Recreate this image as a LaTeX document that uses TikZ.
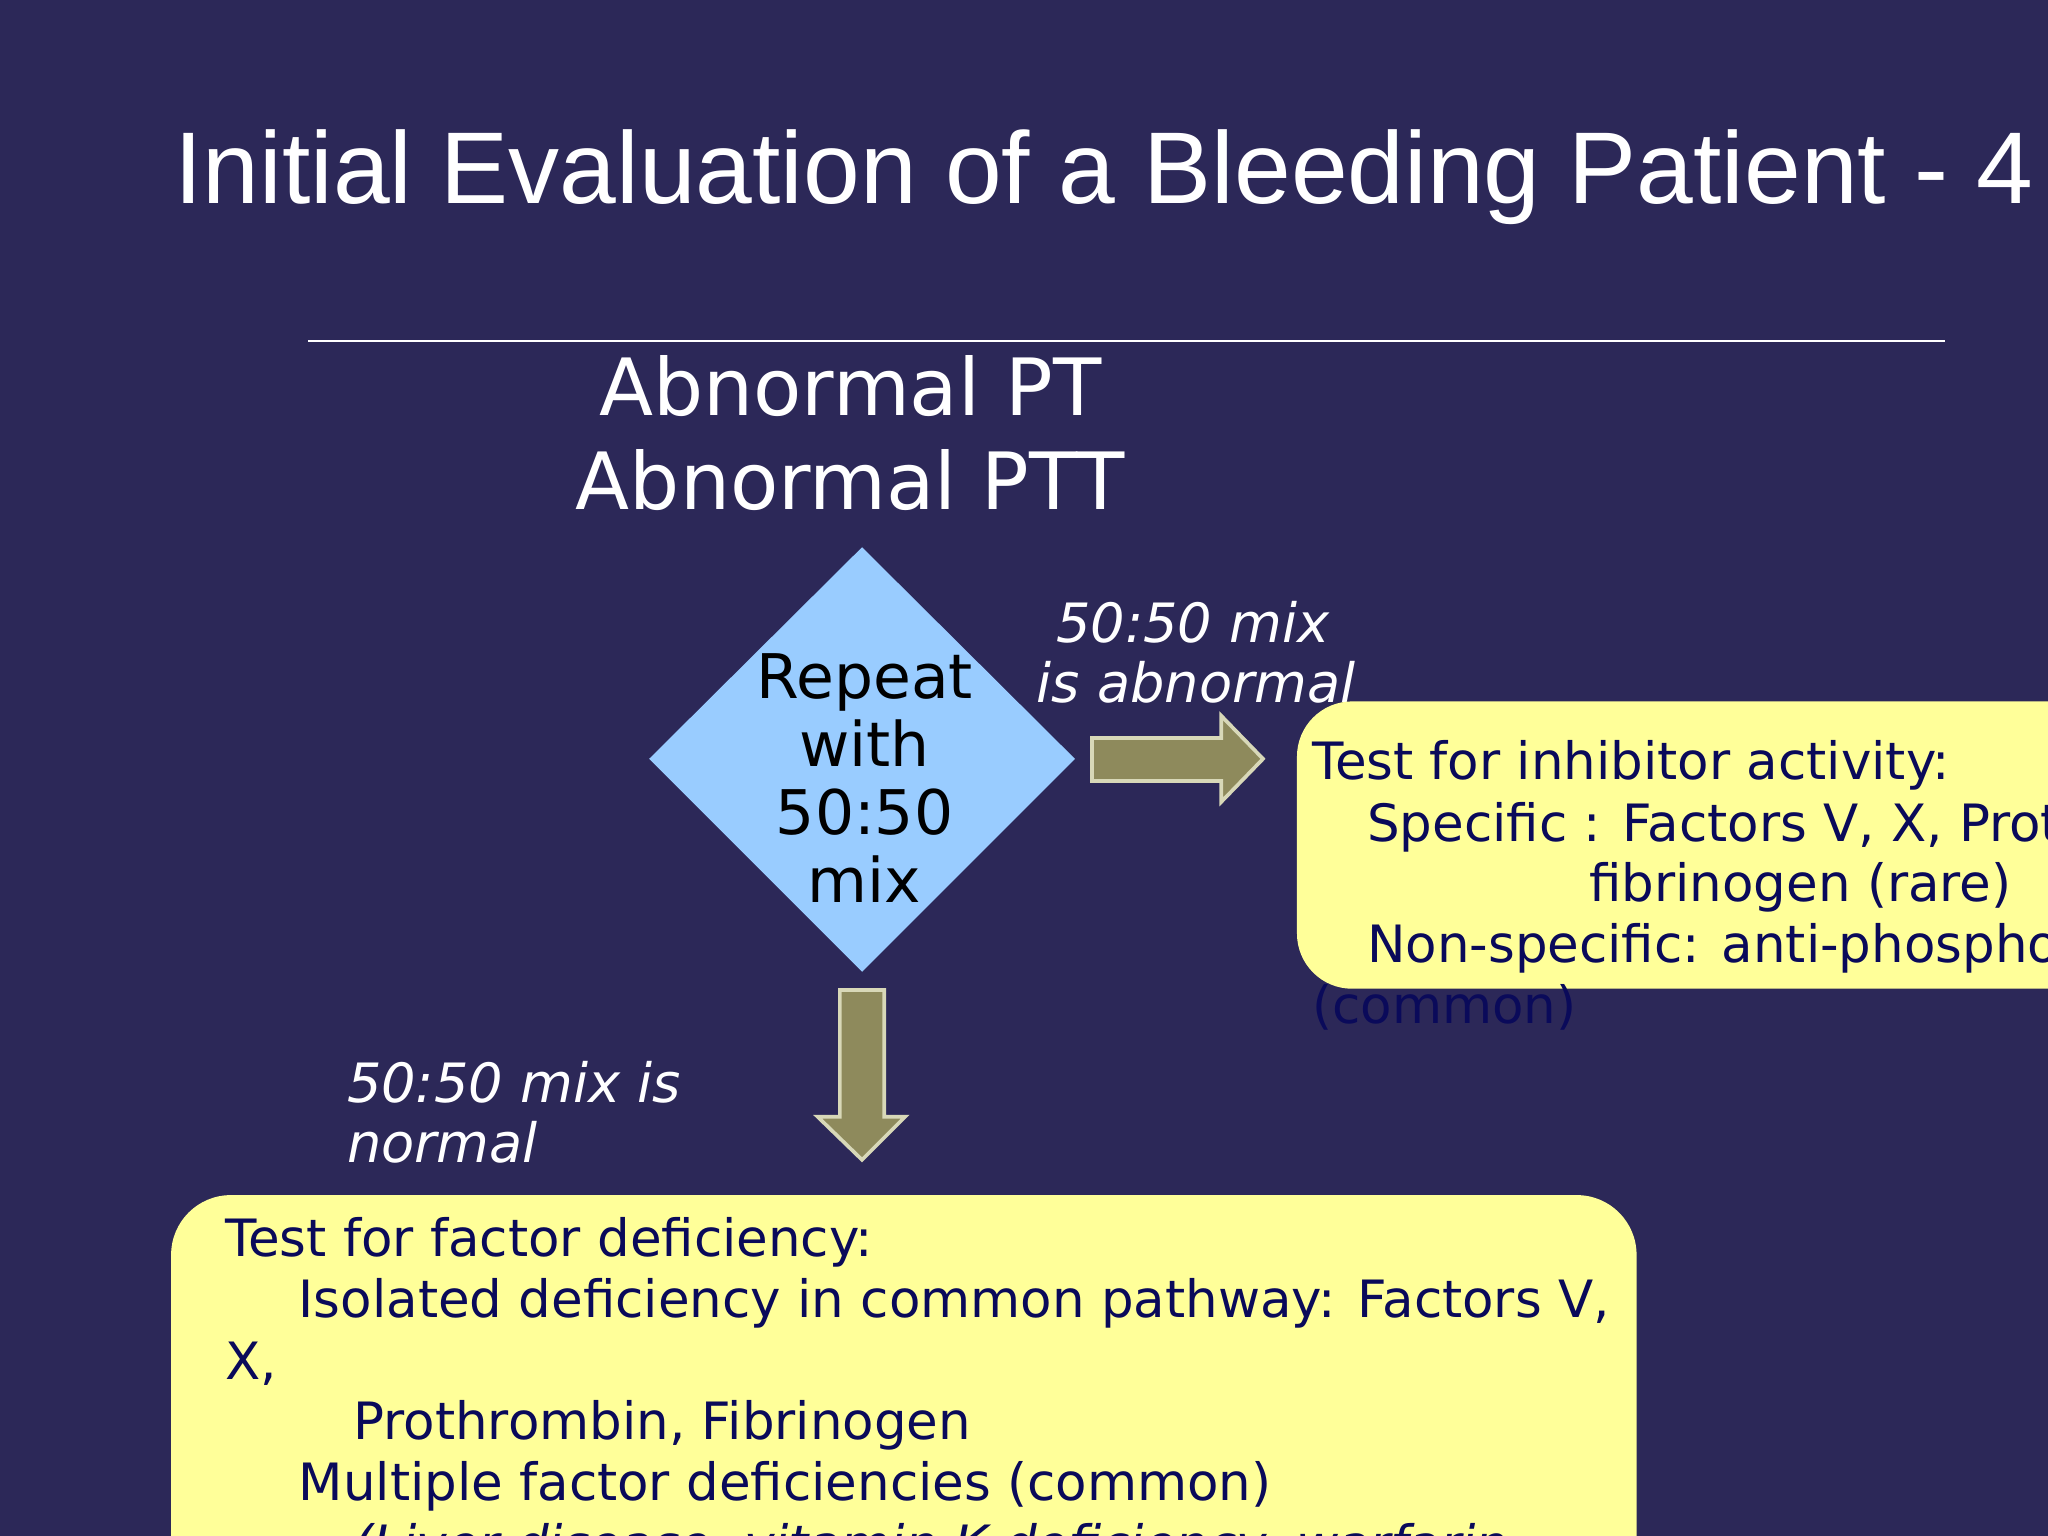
\documentclass[tikz,border=0pt]{standalone}
\usepackage{fontspec}
\setmainfont{DejaVu Sans}
\newfontfamily\titlefont{Liberation Sans}
\begin{document}
\begin{tikzpicture}[x=0.01cm,y=-0.01cm,
  boxtxt/.style={anchor=base west,inner sep=0,font=\fontsize{11.2}{14}\selectfont,text=navytxt},
  lbl/.style={anchor=base west,inner sep=0,font=\fontsize{11.8}{14}\selectfont\itshape,text=white},
  dtxt/.style={anchor=base,inner sep=0,font=\fontsize{13.4}{16}\selectfont,text=black},
  head/.style={anchor=base,inner sep=0,font=\fontsize{17.2}{20}\selectfont,text=white},
  blk/.style={fill=olive1,draw=olive2,line width=0.8pt,line join=miter}]
\definecolor{bg}{HTML}{2C2858}
\definecolor{navytxt}{HTML}{0A0A5A}
\definecolor{yel}{HTML}{FFFF99}
\definecolor{dia}{HTML}{99CCFF}
\definecolor{olive1}{HTML}{8E8A5C}
\definecolor{olive2}{HTML}{D8D8B8}
\fill[bg] (0,0) rectangle (1568,1176);
\useasboundingbox (0,0) rectangle (1568,1176);
\clip (0,0) rectangle (1568,1176);
\node[anchor=base west,inner sep=0,font=\titlefont\fontsize{22.2}{26}\selectfont,text=white] (title) at (133,156) {Initial Evaluation of a Bleeding Patient - 4};
\coordinate (l1) at (236,261); \coordinate (l2) at (1489,261);
\draw[white,line width=0.6pt] (l1) -- (l2);
\node[head] (h1) at (651,318) {Abnormal PT};
\node[head] (h2) at (651,390) {Abnormal PTT};
\fill[dia] (660,419) -- (823,581) -- (660,744) -- (497,581) -- cycle;
\node[dtxt] (d1) at (662,535) {Repeat};
\node[dtxt] (d2) at (662,587) {with};
\node[dtxt] (d3) at (662,639) {50:50};
\node[dtxt] (d4) at (662,691) {mix};
\draw[blk] (836,565) -- (935,565) -- (935,548) -- (967,581) -- (935,614) -- (935,598) -- (836,598) -- cycle;
\draw[blk] (643,758) -- (677,758) -- (677,855) -- (693,855) -- (660,888) -- (626,855) -- (643,855) -- cycle;
\node[lbl] (a1) at (808,492) {50:50 mix};
\node[lbl] (a2) at (793,538) {is abnormal};
\node[lbl] (b1) at (265,844) {50:50 mix is};
\node[lbl] (b2) at (265,890) {normal};
\fill[yel,rounded corners=12pt] (993,537) rectangle (1700,757);
\node[boxtxt] (r1) at (1004,597) {Test for inhibitor activity:};
\node[boxtxt] (r2) at (1046,644) {Specific : Factors V, X, Prothrombin,};
\node[boxtxt] (r3) at (1216,690) {fibrinogen (rare)};
\node[boxtxt] (r4) at (1046,737) {Non-specific: anti-phospholipid antibodies};
\node[boxtxt] (r5) at (1004,784) {(common)};
\fill[yel,rounded corners=13pt] (131,915) rectangle (1253,1260);
\node[boxtxt] (s1) at (172,962) {Test for factor deficiency:};
\node[boxtxt] (s2) at (228,1009) {Isolated deficiency in common pathway: Factors V,};
\node[boxtxt] (s3) at (172,1056) {X,};
\node[boxtxt] (s4) at (270,1102) {Prothrombin, Fibrinogen};
\node[boxtxt] (s5) at (228,1149) {Multiple factor deficiencies (common)};
\node[boxtxt,font=\fontsize{11.2}{14}\selectfont\itshape] (s6) at (270,1196) {(Liver disease, vitamin K deficiency, warfarin};
\end{tikzpicture}
\end{document}
